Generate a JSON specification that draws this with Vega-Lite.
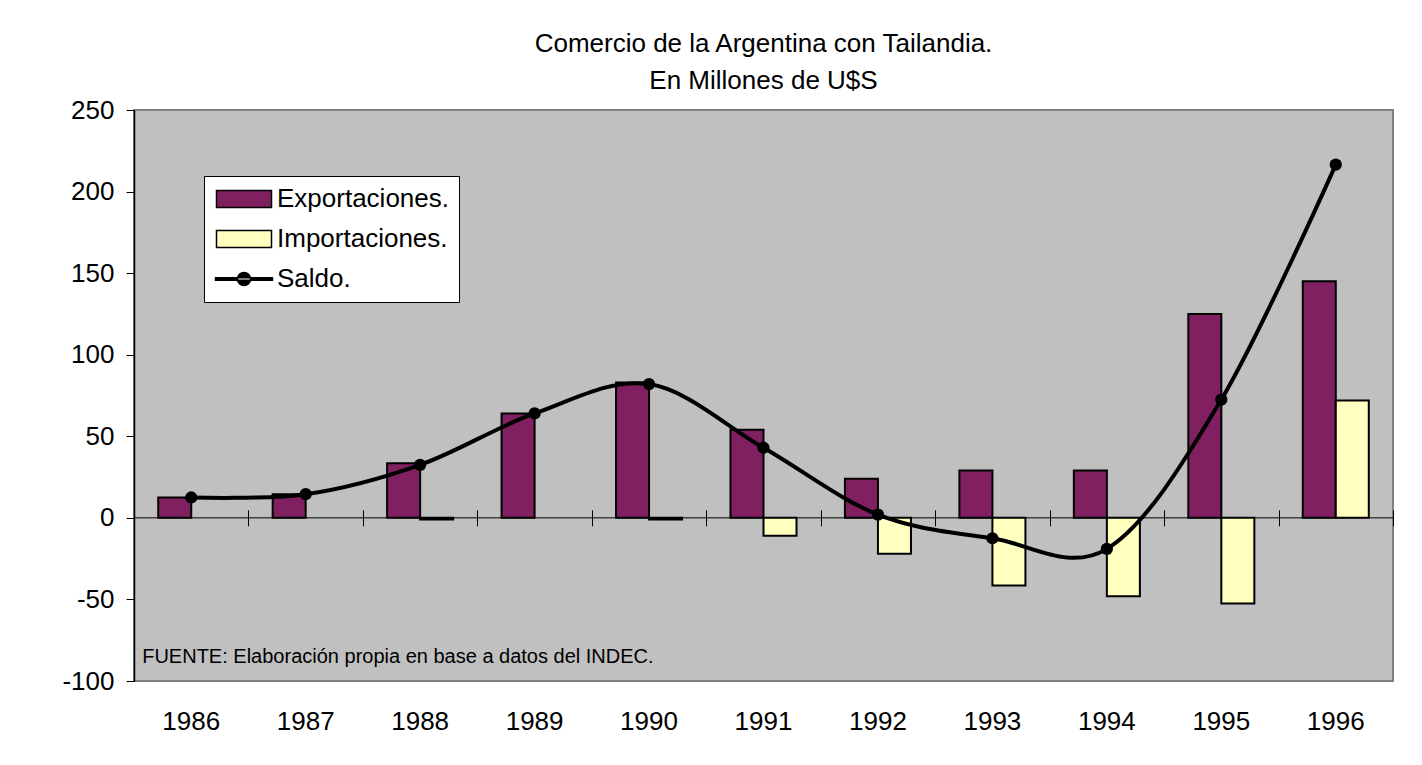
{
  "$schema": "https://vega.github.io/schema/vega-lite/v6.json",
  "width": 1259,
  "height": 571,
  "autosize": {"type": "none"},
  "padding": {"left": 134, "top": 110, "right": 29, "bottom": 84},
  "background": "white",
  "config": {
    "font": "Liberation Sans",
    "view": {"fill": "#C0C0C0", "stroke": "#808080", "strokeWidth": 2},
    "legend": {"symbolStrokeColor": "black", "symbolStrokeWidth": 1.5}
  },
  "title": {
    "text": ["Comercio de la Argentina con Tailandia.", "En Millones de U$S"],
    "fontSize": 26,
    "fontWeight": "normal",
    "font": "Liberation Sans",
    "color": "black",
    "lineHeight": 37,
    "offset": 3,
    "anchor": "middle"
  },
  "data": {
    "values": [
      {"year": "1986", "serie": "Exportaciones.", "value": 12.5},
      {"year": "1987", "serie": "Exportaciones.", "value": 14.5},
      {"year": "1988", "serie": "Exportaciones.", "value": 33.5},
      {"year": "1989", "serie": "Exportaciones.", "value": 64},
      {"year": "1990", "serie": "Exportaciones.", "value": 83},
      {"year": "1991", "serie": "Exportaciones.", "value": 54},
      {"year": "1992", "serie": "Exportaciones.", "value": 24},
      {"year": "1993", "serie": "Exportaciones.", "value": 29},
      {"year": "1994", "serie": "Exportaciones.", "value": 29},
      {"year": "1995", "serie": "Exportaciones.", "value": 125},
      {"year": "1996", "serie": "Exportaciones.", "value": 145},
      {"year": "1988", "serie": "Importaciones.", "value": -1},
      {"year": "1990", "serie": "Importaciones.", "value": -1},
      {"year": "1991", "serie": "Importaciones.", "value": -11},
      {"year": "1992", "serie": "Importaciones.", "value": -22},
      {"year": "1993", "serie": "Importaciones.", "value": -41.5},
      {"year": "1994", "serie": "Importaciones.", "value": -48},
      {"year": "1995", "serie": "Importaciones.", "value": -52.5},
      {"year": "1996", "serie": "Importaciones.", "value": 72},
      {"year": "1986", "serie": "Saldo.", "value": 12.5},
      {"year": "1987", "serie": "Saldo.", "value": 14.5},
      {"year": "1988", "serie": "Saldo.", "value": 32.5},
      {"year": "1989", "serie": "Saldo.", "value": 64},
      {"year": "1990", "serie": "Saldo.", "value": 82},
      {"year": "1991", "serie": "Saldo.", "value": 43},
      {"year": "1992", "serie": "Saldo.", "value": 2},
      {"year": "1993", "serie": "Saldo.", "value": -12.5},
      {"year": "1994", "serie": "Saldo.", "value": -19},
      {"year": "1995", "serie": "Saldo.", "value": 72.5},
      {"year": "1996", "serie": "Saldo.", "value": 216.5}
    ]
  },
  "resolve": {"axis": {"x": "independent"}},
  "layer": [
    {
      "data": {"values": [{"value": 0}]},
      "mark": {"type": "rule", "color": "black", "strokeWidth": 1},
      "encoding": {
        "y": {"field": "value", "type": "quantitative", "scale": {"domain": [-100, 250], "nice": false, "zero": false}, "axis": {"title": null, "values": [-100, -50, 0, 50, 100, 150, 200, 250], "labelExpr": "'' + datum.value", "grid": false, "domainColor": "black", "domainWidth": 1.5, "tickColor": "black", "tickSize": 8, "tickWidth": 1, "labelFontSize": 26, "labelColor": "black", "labelPadding": 12, "labelFont": "Liberation Sans"}}
      }
    },
    {
      "transform": [{"filter": "datum.serie !== 'Saldo.'"}],
      "mark": {"type": "bar", "stroke": "black", "strokeWidth": 2},
      "encoding": {
        "x": {"field": "year", "type": "nominal", "scale": {"type": "band", "paddingInner": 0.423, "paddingOuter": 0.2115}, "axis": {"orient": "bottom", "title": null, "domain": false, "ticks": false, "tickSize": 0, "labelFontSize": 26, "labelColor": "black", "labelPadding": 27, "labelAngle": 0, "labelFont": "Liberation Sans"}},
        "xOffset": {"field": "serie", "type": "nominal", "scale": {"domain": ["Exportaciones.", "Importaciones."], "paddingInner": 0, "paddingOuter": 0}},
        "y": {"field": "value", "type": "quantitative", "scale": {"domain": [-100, 250], "nice": false, "zero": false}, "axis": {"title": null, "values": [-100, -50, 0, 50, 100, 150, 200, 250], "labelExpr": "'' + datum.value", "grid": false, "domainColor": "black", "domainWidth": 1.5, "tickColor": "black", "tickSize": 8, "tickWidth": 1, "labelFontSize": 26, "labelColor": "black", "labelPadding": 12, "labelFont": "Liberation Sans"}},
        "color": {"field": "serie", "type": "nominal", "scale": {"domain": ["Exportaciones.", "Importaciones."], "range": ["#802060", "#FFFFC0"]}, "legend": null}
      }
    },
    {
      "transform": [{"filter": "datum.serie === 'Saldo.'"}],
      "mark": {"type": "line", "interpolate": "cardinal", "tension": 0, "color": "black", "strokeWidth": 4},
      "encoding": {
        "x": {"field": "year", "type": "nominal", "axis": {"orient": "top", "title": null, "domain": false, "labels": false, "ticks": true, "tickOffset": 57.23, "tickSize": 16, "tickColor": "black", "tickWidth": 1, "offset": -415.86}},
        "y": {"field": "value", "type": "quantitative", "scale": {"domain": [-100, 250], "nice": false, "zero": false}, "axis": {"title": null, "values": [-100, -50, 0, 50, 100, 150, 200, 250], "labelExpr": "'' + datum.value", "grid": false, "domainColor": "black", "domainWidth": 1.5, "tickColor": "black", "tickSize": 8, "tickWidth": 1, "labelFontSize": 26, "labelColor": "black", "labelPadding": 12, "labelFont": "Liberation Sans"}}
      }
    },
    {
      "transform": [{"filter": "datum.serie === 'Saldo.'"}],
      "mark": {"type": "point", "shape": "circle", "filled": true, "size": 150, "color": "black", "opacity": 1},
      "encoding": {
        "x": {"field": "year", "type": "nominal", "axis": null},
        "y": {"field": "value", "type": "quantitative", "scale": {"domain": [-100, 250], "nice": false, "zero": false}, "axis": {"title": null, "values": [-100, -50, 0, 50, 100, 150, 200, 250], "labelExpr": "'' + datum.value", "grid": false, "domainColor": "black", "domainWidth": 1.5, "tickColor": "black", "tickSize": 8, "tickWidth": 1, "labelFontSize": 26, "labelColor": "black", "labelPadding": 12, "labelFont": "Liberation Sans"}}
      }
    },
    {
      "data": {"values": [{"note": "FUENTE: Elaboración propia en base a datos del INDEC."}]},
      "mark": {"type": "text", "align": "left", "baseline": "alphabetic", "fontSize": 20, "font": "Liberation Sans", "color": "black", "dx": -16},
      "encoding": {
        "x": {"datum": "1986", "type": "nominal", "bandPosition": 0, "axis": null},
        "y": {"datum": -89, "type": "quantitative", "scale": {"domain": [-100, 250], "nice": false, "zero": false}, "axis": {"title": null, "values": [-100, -50, 0, 50, 100, 150, 200, 250], "labelExpr": "'' + datum.value", "grid": false, "domainColor": "black", "domainWidth": 1.5, "tickColor": "black", "tickSize": 8, "tickWidth": 1, "labelFontSize": 26, "labelColor": "black", "labelPadding": 12, "labelFont": "Liberation Sans"}},
        "text": {"field": "note"}
      }
    },
    {
      "transform": [{"filter": "false"}],
      "mark": {"type": "point", "filled": true, "stroke": "black", "strokeWidth": 1.5},
      "encoding": {
        "x": {"field": "year", "type": "nominal", "axis": null},
        "y": {"field": "value", "type": "quantitative", "scale": {"domain": [-100, 250], "nice": false, "zero": false}, "axis": {"title": null, "values": [-100, -50, 0, 50, 100, 150, 200, 250], "labelExpr": "'' + datum.value", "grid": false, "domainColor": "black", "domainWidth": 1.5, "tickColor": "black", "tickSize": 8, "tickWidth": 1, "labelFontSize": 26, "labelColor": "black", "labelPadding": 12, "labelFont": "Liberation Sans"}},
        "fill": {"field": "serie", "type": "nominal", "scale": {"domain": ["Exportaciones.", "Importaciones.", "Saldo."], "range": ["#802060", "#FFFFC0", "black"]}, "legend": {"title": null, "orient": "none", "legendX": 70, "legendY": 66, "fillColor": "white", "strokeColor": "black", "padding": 10, "symbolSize": 400, "symbolOffset": 17, "symbolStrokeColor": "black", "symbolStrokeWidth": 1.5, "symbolOpacity": 1, "labelFontSize": 26, "labelFont": "Liberation Sans", "labelColor": "black", "labelOffset": 20, "rowPadding": 14, "labelLimit": 400, "encode": {"symbols": {"update": {"stroke": {"value": "black"}, "strokeWidth": {"value": 1.5}, "strokeOpacity": {"value": 1}}}}}},
        "shape": {"field": "serie", "type": "nominal", "scale": {"domain": ["Exportaciones.", "Importaciones.", "Saldo."], "range": ["M-2.75,-0.86H2.75V0.86H-2.75Z", "M-2.75,-0.86H2.75V0.86H-2.75Z", "M-2.85,-0.13H2.85V0.13H-2.85Z M-0.65,0A0.65,0.65 0 1,0 0.65,0A0.65,0.65 0 1,0 -0.65,0Z"]}, "legend": {"title": null, "orient": "none", "legendX": 70, "legendY": 66, "fillColor": "white", "strokeColor": "black", "padding": 10, "symbolSize": 400, "symbolOffset": 17, "symbolStrokeColor": "black", "symbolStrokeWidth": 1.5, "symbolOpacity": 1, "labelFontSize": 26, "labelFont": "Liberation Sans", "labelColor": "black", "labelOffset": 20, "rowPadding": 14, "labelLimit": 400, "encode": {"symbols": {"update": {"stroke": {"value": "black"}, "strokeWidth": {"value": 1.5}, "strokeOpacity": {"value": 1}}}}}}
      }
    }
  ]
}
